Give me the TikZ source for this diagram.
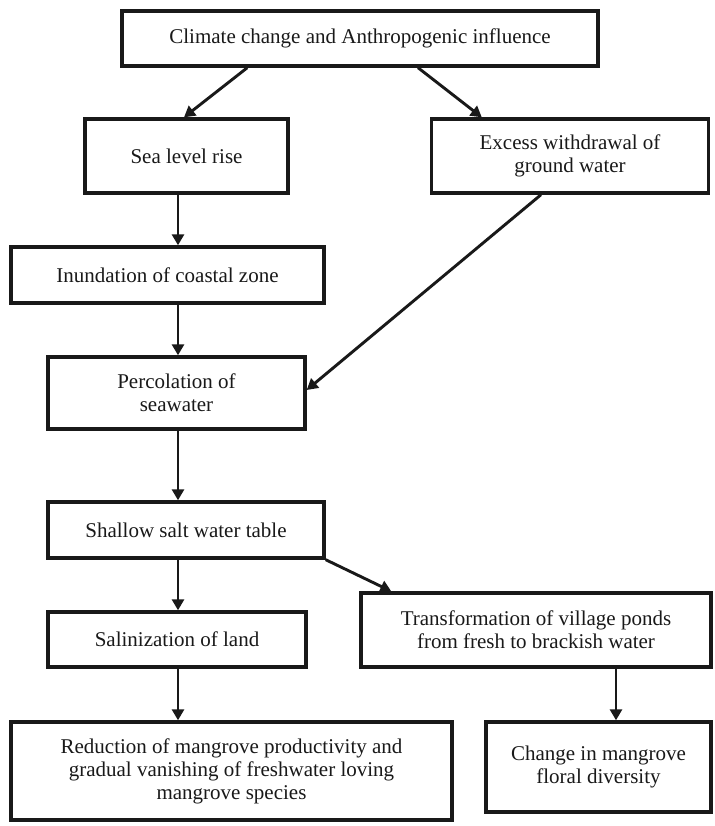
\documentclass[tikz,border=0pt]{standalone}
\usepackage{fontspec}
\setmainfont{Liberation Serif}
\usetikzlibrary{arrows.meta}
\begin{document}
\begin{tikzpicture}[x=1pt,y=-1pt,
  box/.style={draw=black!90,line width=3.4pt,inner sep=0pt,align=center,font=\fontsize{21}{23}\selectfont,text=black!90},
  arr/.style={line width=2.9pt,draw=black!90,-{Triangle[width=12pt,length=11pt]}}]
\useasboundingbox[fill=white] (0,0) rectangle (714,826);
\node[box,minimum width=476pt,minimum height=55pt] (top) at (360,38.5) {Climate change and Anthropogenic influence};
\node[box,minimum width=203pt,minimum height=74pt] (sea) at (186.5,156) {Sea level rise};
\node[box,minimum width=277pt,minimum height=74pt] (exc) at (570,156) {Excess withdrawal of\\ground water};
\node[box,minimum width=313pt,minimum height=56pt] (inu) at (167.5,275) {Inundation of coastal zone};
\node[box,minimum width=257pt,minimum height=72pt] (per) at (176.5,393) {Percolation of\\seawater};
\node[box,minimum width=276pt,minimum height=56pt] (sha) at (186,530) {Shallow salt water table};
\node[box,minimum width=258pt,minimum height=55pt] (sal) at (177,639.5) {Salinization of land};
\node[box,minimum width=350pt,minimum height=74pt] (tra) at (536,630) {Transformation of village ponds\\from fresh to brackish water};
\node[box,minimum width=441pt,minimum height=98pt] (red) at (231.5,771) {Reduction of mangrove productivity and\\gradual vanishing of freshwater loving\\mangrove species};
\node[box,minimum width=225pt,minimum height=90pt] (cha) at (598.5,767) {Change in mangrove\\floral diversity};
\draw[arr] ([xshift=127pt]top.south west) -- ([xshift=-2.5pt]sea.north);
\draw[arr] ([xshift=58pt]top.south) -- ([xshift=52pt]exc.north west);
\draw[arr] ([xshift=-8.5pt]sea.south) -- ([xshift=10.5pt]inu.north);
\draw[arr] ([xshift=-29pt]exc.south) -- ([yshift=3pt]per.east);
\draw[arr] ([xshift=10.5pt]inu.south) -- ([xshift=1.5pt]per.north);
\draw[arr] ([xshift=1.5pt]per.south) -- ([xshift=-8pt]sha.north);
\draw[arr] ([xshift=-8pt]sha.south) -- ([xshift=1pt]sal.north);
\draw[arr] (sha.south east) -- ([xshift=32pt]tra.north west);
\draw[arr] ([xshift=1pt]sal.south) -- ([xshift=-53.5pt]red.north);
\draw[arr] ([xshift=80pt]tra.south) -- ([xshift=17.5pt]cha.north);
\end{tikzpicture}
\end{document}
